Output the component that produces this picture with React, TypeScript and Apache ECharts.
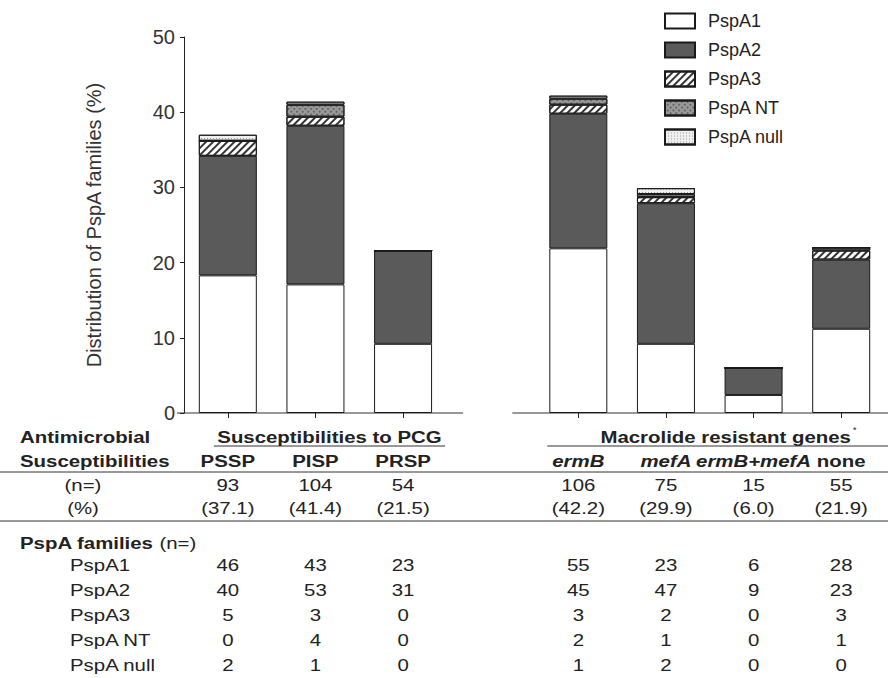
import React, { useEffect, useRef } from 'react';
import * as echarts from 'echarts';

// ---------- data ----------
const categories = ['PSSP', 'PISP', 'PRSP', ' ', 'ermB', 'mefA', 'ermB+mefA', 'none'];
const families = ['PspA1', 'PspA2', 'PspA3', 'PspA NT', 'PspA null'];

// bar segment heights (% of all isolates), gap column = null
const pspA1Pct = [18.3, 17.1, 9.2, null, 21.9, 9.2, 2.4, 11.2];
const pspA2Pct = [15.9, 21.1, 12.4, null, 17.9, 18.7, 3.6, 9.2];
const pspA3Pct = [2.0, 1.2, 0, null, 1.2, 0.8, 0, 1.2];
const pspANTPct = [0, 1.6, 0, null, 0.8, 0.4, 0, 0.4];
const pspANullPct = [0.8, 0.4, 0, null, 0.4, 0.8, 0, 0];

const yTickValues = [0, 10, 20, 30, 40, 50];

// table
const groupTitles = ['Susceptibilities to PCG', 'Macrolide resistant genes'];
const nRow = ['93', '104', '54', '', '106', '75', '15', '55'];
const pctRow = ['(37.1)', '(41.4)', '(21.5)', '', '(42.2)', '(29.9)', '(6.0)', '(21.9)'];
const countsA1 = ['46', '43', '23', '', '55', '23', '6', '28'];
const countsA2 = ['40', '53', '31', '', '45', '47', '9', '23'];
const countsA3 = ['5', '3', '0', '', '3', '2', '0', '3'];
const countsNT = ['0', '4', '0', '', '2', '1', '0', '1'];
const countsNull = ['2', '1', '0', '', '1', '2', '0', '0'];

const FONT = '"Liberation Sans", Arial, sans-serif';
const INK = '#222';

export default function App() {
  const ref = useRef<HTMLDivElement>(null);

  useEffect(() => {
    if (!ref.current) return;
    const chart = echarts.init(ref.current, null, { renderer: 'svg' });

    const border = { borderColor: '#1a1a1a', borderWidth: 1 };
    const styles = [
      { color: '#ffffff', ...border },
      { color: '#5a5a5a', ...border },
      {
        color: '#ffffff', ...border,
        decal: { symbol: 'rect', symbolSize: 1, color: '#333', dashArrayX: [1, 0], dashArrayY: [1.3, 2.7], rotation: -Math.PI / 4 },
      },
      {
        color: '#9a9a9a', ...border,
        decal: { symbol: 'rect', symbolSize: 0.8, color: '#444', dashArrayX: [2, 2], dashArrayY: [2, 2], rotation: Math.PI / 4 },
      },
      {
        color: '#f0f0f0', ...border,
        decal: { symbol: 'rect', symbolSize: 1, color: '#999', dashArrayX: [1, 2], dashArrayY: [1, 2], rotation: 0 },
      },
    ];
    const seriesData = [pspA1Pct, pspA2Pct, pspA3Pct, pspANTPct, pspANullPct];

    chart.setOption({
      animation: false,
      textStyle: { fontFamily: FONT },
      grid: { left: 184, top: 37, right: 3, bottom: 265, containLabel: false },
      legend: {
        orient: 'vertical',
        left: 664,
        top: 12,
        padding: 0,
        icon: 'rect',
        itemWidth: 30,
        itemHeight: 15,
        itemGap: 11,
        data: families,
        textStyle: { fontSize: 18, color: INK, fontFamily: FONT, padding: [0, 0, 0, 8] },
      },
      xAxis: {
        type: 'category',
        data: categories,
        axisLine: { show: false },
        axisTick: {
          show: true,
          alignWithLabel: true,
          length: 5,
          interval: (i: number) => categories[i].trim() !== '',
          lineStyle: { color: INK },
        },
        axisLabel: { show: false },
      },
      yAxis: {
        type: 'value',
        min: yTickValues[0],
        max: yTickValues[yTickValues.length - 1],
        interval: 10,
        name: 'Distribution of PspA families (%)',
        nameLocation: 'middle',
        nameGap: 80,
        nameTextStyle: { fontSize: 20, color: '#333', fontFamily: FONT },
        axisLine: { show: true, lineStyle: { color: INK, width: 1 } },
        axisTick: { show: true, length: 4, lineStyle: { color: INK } },
        axisLabel: { fontSize: 20, color: '#333', margin: 9, fontFamily: FONT },
        splitLine: { show: false },
      },
      series: families.map((name, k) => ({
        name,
        type: 'bar',
        stack: 'total',
        barWidth: 58,
        data: seriesData[k],
        itemStyle: styles[k],
        emphasis: { disabled: true },
      })),
    });

    // ---- table drawn under the axis, aligned with the category centres ----
    const cx = categories.map((_, i) => chart.convertToPixel({ xAxisIndex: 0 }, i) as number);
    const axisY = chart.convertToPixel({ yAxisIndex: 0 }, 0) as number;
    const axisX = 184;

    const canvas = document.createElement('canvas');
    const ctx = canvas.getContext('2d')!;
    const measure = (t: string, f: string) => { ctx.font = f; return ctx.measureText(t).width; };

    const SX = 1.2;
    const fN = `17px ${FONT}`;
    const fB = `bold 17px ${FONT}`;
    const fBI = `italic bold 17px ${FONT}`;

    const g: any[] = [];
    const txt = (text: string, x: number, y: number, font: string, align = 'center') =>
      g.push({
        type: 'text', silent: true, x, y, scaleX: SX,
        style: { text, x: 0, y: 0, font, fill: INK, textAlign: align, textVerticalAlign: 'middle' },
      });
    const line = (x1: number, y1: number, x2: number, y2: number) =>
      g.push({ type: 'line', silent: true, shape: { x1, y1, x2, y2 }, style: { stroke: '#333', lineWidth: 1 } });

    // x axis line segments
    line(axisX - 7, axisY, cx[2] + 60, axisY);
    line(cx[4] - 66, axisY, 888, axisY);

    const rowTitle = 437, rowSub = 461, line1 = 472, rowN = 485, rowPct = 508, line2 = 521;
    const rowFam = 543, famRows = [565, 590, 615, 640, 665];

    txt('Antimicrobial', 20, rowTitle, fB, 'left');
    txt('Susceptibilities', 20, rowSub, fB, 'left');

    // group headers
    const leftStart = cx[0] - 14, leftEnd = cx[2] + 42;
    txt(groupTitles[0], (leftStart + leftEnd) / 2, rowTitle, fB);
    line(leftStart, 446, leftEnd, 446);
    const rightStart = cx[4] - 31, rightEnd = 888;
    const mc = (rightStart + rightEnd) / 2 + 8;
    txt(groupTitles[1], mc, rowTitle, fB);
    const mw = measure(groupTitles[1], fB) * SX;
    g.push({ type: 'text', silent: true, style: { text: '*', x: mc + mw / 2 + 2, y: rowTitle - 7, font: `9px ${FONT}`, fill: INK, textAlign: 'left', textVerticalAlign: 'middle' } });
    line(rightStart, 446, rightEnd, 446);

    categories.forEach((c, i) => {
      if (!c.trim()) return;
      txt(c, cx[i], rowSub, i >= 4 && i <= 6 ? fBI : fB);
    });
    line(0, line1, 888, line1);

    txt('(n=)', 83, rowN, fN);
    txt('(%)', 83, rowPct, fN);
    nRow.forEach((v, i) => v && txt(v, cx[i], rowN, fN));
    pctRow.forEach((v, i) => v && txt(v, cx[i], rowPct, fN));
    line(0, line2, 888, line2);

    txt('PspA families', 20, rowFam, fB, 'left');
    txt('(n=)', 20 + measure('PspA families ', fB) * SX, rowFam, fN, 'left');
    const countRows = [countsA1, countsA2, countsA3, countsNT, countsNull];
    families.forEach((f, r) => {
      txt(f, 70, famRows[r], fN, 'left');
      countRows[r].forEach((v, i) => v && txt(v, cx[i], famRows[r], fN));
    });

    chart.setOption({ graphic: g });

    return () => chart.dispose();
  }, []);

  return (
    <div
      ref={ref}
      style={{ position: 'fixed', left: 0, top: 0, width: 888, height: 678, background: '#fff' }}
    />
  );
}
